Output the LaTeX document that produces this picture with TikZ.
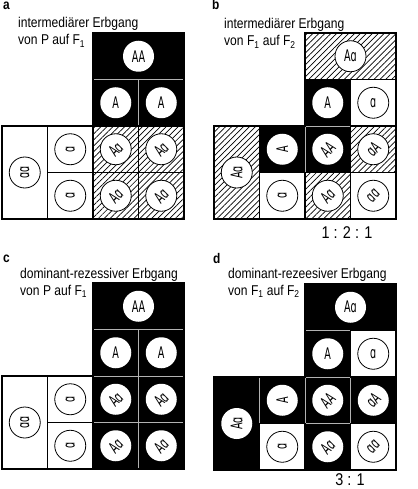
\documentclass[tikz,border=0pt]{standalone}
\usepackage{fontspec}
\setmainfont{Liberation Sans}[FakeStretch=0.85]
\newfontfamily\allelfont{DejaVu Sans}[FakeStretch=0.6]
\usepackage{graphicx}
\usepackage{tikz}
\usetikzlibrary{patterns.meta}

\newcommand{\up}[1]{\rotatebox{90}{#1}}
\newcommand{\diag}[1]{\rotatebox{45}{#1}}

\tikzset{
  panel/.style={x=45.5pt, y=-46.5pt},
  blackcell/.style={fill=black, draw=gray!60, line width=0.7pt},
  whitecell/.style={fill=white, draw=black, line width=1.2pt},
  hatchcell/.style={pattern={Lines[angle=45, distance=4.2pt, line width=0.7pt]}, draw=black, line width=1.2pt},
  frame/.style={draw=black, line width=2pt, line join=miter},
  allele/.style={circle, draw=black, line width=0.8pt, fill=white, minimum size=31pt, inner sep=0pt,
    font=\allelfont\fontsize{16}{16}\selectfont},
  onblack/.style={allele, draw=none},
  letter/.style={anchor=base west, inner sep=0pt, font=\bfseries\fontsize{14}{14}\selectfont},
  title/.style={anchor=base west, inner sep=0pt, font=\fontsize{14.2}{16}\selectfont},
  ratio/.style={inner sep=0pt, font=\fontsize{17}{17}\selectfont}
}

\begin{document}
\begin{tikzpicture}
  \useasboundingbox (0,0) rectangle (417pt,-489pt);

  % ---------- a ----------
  \node[letter] (aLetter) at (3pt,-10pt) {a};
  \node[title] (aTitle1) at (18pt,-28pt) {intermediärer Erbgang};
  \node[title] (aTitle2) at (18pt,-45pt) {von P auf F\textsubscript{1}};
  \begin{scope}[shift={(2pt,-33pt)}, panel]
    % Parent AA and gametes
    \draw[blackcell] (2,0) rectangle (4,1);
    \draw[blackcell] (2,1) rectangle (3,2);
    \draw[blackcell] (3,1) rectangle (4,2);
    % Parent aa and gametes
    \draw[whitecell] (0,2) rectangle (1,4);
    \draw[whitecell] (1,2) rectangle (2,3);
    \draw[whitecell] (1,3) rectangle (2,4);
    % F1
    \draw[hatchcell] (2,2) rectangle (3,3);
    \draw[hatchcell] (3,2) rectangle (4,3);
    \draw[hatchcell] (2,3) rectangle (3,4);
    \draw[hatchcell] (3,3) rectangle (4,4);
    % Frame
    \draw[frame] (2,0) -- (4,0) -- (4,4) -- (0,4) -- (0,2) -- (2,2) -- cycle;
    % Genotypes
    \node[onblack] (aP) at (3,0.5) {AA};
    \node[onblack] (aG1) at (2.5,1.5) {A};
    \node[onblack] (aG2) at (3.5,1.5) {A};
    \node[allele] (aQ) at (0.5,3) {\up{ɑɑ}};
    \node[allele] (aH1) at (1.5,2.5) {\up{ɑ}};
    \node[allele] (aH2) at (1.5,3.5) {\up{ɑ}};
    \node[allele] (aF11) at (2.5,2.5) {\diag{Aɑ}};
    \node[allele] (aF12) at (3.5,2.5) {\diag{Aɑ}};
    \node[allele] (aF21) at (2.5,3.5) {\diag{Aɑ}};
    \node[allele] (aF22) at (3.5,3.5) {\diag{Aɑ}};
  \end{scope}

  % ---------- b ----------
  \node[letter] (bLetter) at (212pt,-10pt) {b};
  \node[title] (bTitle1) at (224pt,-29pt) {intermediärer Erbgang};
  \node[title] (bTitle2) at (224pt,-46pt) {von F\textsubscript{1} auf F\textsubscript{2}};
  \begin{scope}[shift={(214pt,-33pt)}, panel]
    % Black cells
    \draw[blackcell] (2,1) rectangle (3,2);
    \draw[blackcell] (1,2) rectangle (2,3);
    \draw[blackcell] (2,2) rectangle (3,3);
    % Hatched cells
    \draw[hatchcell] (2,0) rectangle (4,1);
    \draw[hatchcell] (0,2) rectangle (1,4);
    \draw[hatchcell] (3,2) rectangle (4,3);
    \draw[hatchcell] (2,3) rectangle (3,4);
    % White cells
    \draw[whitecell] (3,1) rectangle (4,2);
    \draw[whitecell] (1,3) rectangle (2,4);
    \draw[whitecell] (3,3) rectangle (4,4);
    % Frame
    \draw[frame] (2,0) -- (4,0) -- (4,4) -- (0,4) -- (0,2) -- (2,2) -- cycle;
    % Genotypes
    \node[allele] (bP) at (3,0.5) {Aɑ};
    \node[onblack] (bG1) at (2.5,1.5) {A};
    \node[allele] (bG2) at (3.5,1.5) {ɑ};
    \node[allele] (bQ) at (0.5,3) {\up{Aɑ}};
    \node[onblack] (bH1) at (1.5,2.5) {\up{A}};
    \node[allele] (bH2) at (1.5,3.5) {\up{ɑ}};
    \node[onblack] (bF11) at (2.5,2.5) {\diag{AA}};
    \node[allele] (bF12) at (3.5,2.5) {\diag{ɑA}};
    \node[allele] (bF21) at (2.5,3.5) {\diag{Aɑ}};
    \node[allele] (bF22) at (3.5,3.5) {\diag{ɑɑ}};
  \end{scope}
  \node[ratio] (bRatio) at (347pt,-233pt) {1 : 2 : 1};

  % ---------- c ----------
  \node[letter] (cLetter) at (3pt,-262pt) {c};
  \node[title] (cTitle1) at (20pt,-278pt) {dominant-rezessiver Erbgang};
  \node[title] (cTitle2) at (20pt,-295pt) {von P auf F\textsubscript{1}};
  \begin{scope}[shift={(2pt,-283pt)}, panel]
    % Parent AA, gametes and F1
    \draw[blackcell] (2,0) rectangle (4,1);
    \draw[blackcell] (2,1) rectangle (3,2);
    \draw[blackcell] (3,1) rectangle (4,2);
    \draw[blackcell] (2,2) rectangle (3,3);
    \draw[blackcell] (3,2) rectangle (4,3);
    \draw[blackcell] (2,3) rectangle (3,4);
    \draw[blackcell] (3,3) rectangle (4,4);
    % Parent aa and gametes
    \draw[whitecell] (0,2) rectangle (1,4);
    \draw[whitecell] (1,2) rectangle (2,3);
    \draw[whitecell] (1,3) rectangle (2,4);
    % Frame
    \draw[frame] (2,0) -- (4,0) -- (4,4) -- (0,4) -- (0,2) -- (2,2) -- cycle;
    % Genotypes
    \node[onblack] (cP) at (3,0.5) {AA};
    \node[onblack] (cG1) at (2.5,1.5) {A};
    \node[onblack] (cG2) at (3.5,1.5) {A};
    \node[allele] (cQ) at (0.5,3) {\up{ɑɑ}};
    \node[allele] (cH1) at (1.5,2.5) {\up{ɑ}};
    \node[allele] (cH2) at (1.5,3.5) {\up{ɑ}};
    \node[onblack] (cF11) at (2.5,2.5) {\diag{Aɑ}};
    \node[onblack] (cF12) at (3.5,2.5) {\diag{Aɑ}};
    \node[onblack] (cF21) at (2.5,3.5) {\diag{Aɑ}};
    \node[onblack] (cF22) at (3.5,3.5) {\diag{Aɑ}};
  \end{scope}

  % ---------- d ----------
  \node[letter] (dLetter) at (213pt,-263pt) {d};
  \node[title] (dTitle1) at (228pt,-278pt) {dominant-rezeesiver Erbgang};
  \node[title] (dTitle2) at (228pt,-295pt) {von F\textsubscript{1} auf F\textsubscript{2}};
  \begin{scope}[shift={(214pt,-284pt)}, panel]
    % Black cells
    \draw[blackcell] (2,0) rectangle (4,1);
    \draw[blackcell] (2,1) rectangle (3,2);
    \draw[blackcell] (0,2) rectangle (1,4);
    \draw[blackcell] (1,2) rectangle (2,3);
    \draw[blackcell] (2,2) rectangle (3,3);
    \draw[blackcell] (3,2) rectangle (4,3);
    \draw[blackcell] (2,3) rectangle (3,4);
    % White cells
    \draw[whitecell] (3,1) rectangle (4,2);
    \draw[whitecell] (1,3) rectangle (2,4);
    \draw[whitecell] (3,3) rectangle (4,4);
    % Frame
    \draw[frame] (2,0) -- (4,0) -- (4,4) -- (0,4) -- (0,2) -- (2,2) -- cycle;
    % Genotypes
    \node[onblack] (dP) at (3,0.5) {Aɑ};
    \node[onblack] (dG1) at (2.5,1.5) {A};
    \node[allele] (dG2) at (3.5,1.5) {ɑ};
    \node[onblack] (dQ) at (0.5,3) {\up{Aɑ}};
    \node[onblack] (dH1) at (1.5,2.5) {\up{A}};
    \node[allele] (dH2) at (1.5,3.5) {\up{ɑ}};
    \node[onblack] (dF11) at (2.5,2.5) {\diag{AA}};
    \node[onblack] (dF12) at (3.5,2.5) {\diag{ɑA}};
    \node[onblack] (dF21) at (2.5,3.5) {\diag{Aɑ}};
    \node[allele] (dF22) at (3.5,3.5) {\diag{ɑɑ}};
  \end{scope}
  \node[ratio] (dRatio) at (350pt,-480pt) {3 : 1};
\end{tikzpicture}
\end{document}
